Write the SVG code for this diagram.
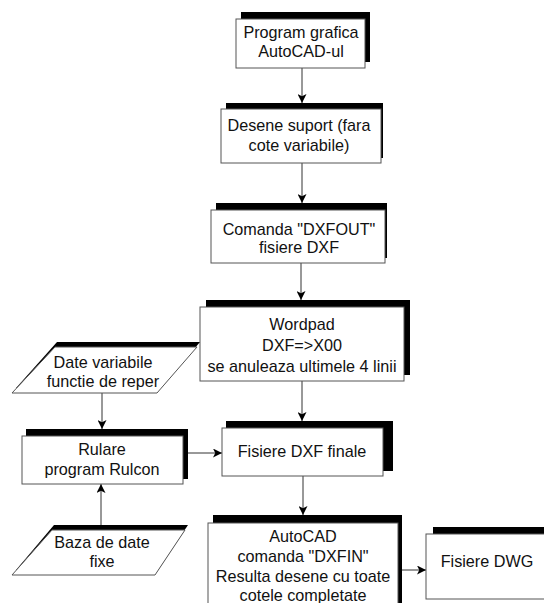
<svg xmlns="http://www.w3.org/2000/svg" width="544" height="603" viewBox="0 0 544 603">
<defs>
<style>
.sh{fill:#000}
.bx{fill:#fff;stroke:#555;stroke-width:1}
.t{font-family:"Liberation Sans",Arial,sans-serif;font-size:16.2px;fill:#111;text-anchor:middle}
.c{fill:none;stroke:#333;stroke-width:1}
</style>
<marker id="ah2" viewBox="0 0 10 10" refX="10" refY="5" markerWidth="12" markerHeight="9" markerUnits="userSpaceOnUse" orient="auto">
<path d="M0,0 L10,5 L0,10 L2.5,5 Z" fill="#000"/>
</marker>
</defs>
<rect width="544" height="603" fill="#fff"/>
<g id="connectors">
<line class="c" x1="302" y1="68" x2="302" y2="103" marker-end="url(#ah2)"/>
<line class="c" x1="302" y1="163" x2="302" y2="203" marker-end="url(#ah2)"/>
<line class="c" x1="301" y1="263" x2="301" y2="300" marker-end="url(#ah2)"/>
<line class="c" x1="302" y1="381" x2="302" y2="421" marker-end="url(#ah2)"/>
<line class="c" x1="303" y1="476" x2="303" y2="515" marker-end="url(#ah2)"/>
<line class="c" x1="402" y1="570" x2="426" y2="570" marker-end="url(#ah2)"/>
<line class="c" x1="188" y1="453" x2="222" y2="453" marker-end="url(#ah2)"/>
<line class="c" x1="102" y1="393" x2="102" y2="429" marker-end="url(#ah2)"/>
<line class="c" x1="101" y1="525" x2="101" y2="484" marker-end="url(#ah2)"/>
</g>
<g id="n1">
<rect class="sh" x="241" y="12" width="129" height="50"/>
<rect class="bx" x="236" y="19" width="129" height="49"/>
<text class="t" x="301" y="38">Program grafica</text>
<text class="t" x="301" y="57">AutoCAD-ul</text>
</g>
<g id="n2">
<rect class="sh" x="226" y="103" width="157" height="55"/>
<rect class="bx" x="221" y="109" width="160" height="54"/>
<text class="t" x="299" y="131">Desene suport (fara</text>
<text class="t" x="299" y="151">cote variabile)</text>
</g>
<g id="n3">
<rect class="sh" x="216" y="203" width="171" height="55"/>
<rect class="bx" x="211" y="210" width="174" height="53"/>
<text class="t" x="299" y="235">Comanda "DXFOUT"</text>
<text class="t" x="299" y="253">fisiere DXF</text>
</g>
<g id="n4">
<rect class="sh" x="206" y="300" width="204" height="75"/>
<rect class="bx" x="200" y="307" width="204" height="74"/>
<text class="t" x="302" y="330">Wordpad</text>
<text class="t" x="302" y="351">DXF=&gt;X00</text>
<text class="t" x="302" y="372">se anuleaza ultimele 4 linii</text>
</g>
<g id="n5">
<rect class="sh" x="226" y="421" width="167" height="50"/>
<rect class="bx" x="222" y="428" width="161" height="48"/>
<text class="t" x="302" y="457">Fisiere DXF finale</text>
</g>
<g id="n6">
<rect class="sh" x="213" y="515" width="189" height="100"/>
<rect class="bx" x="208" y="523" width="190" height="100"/>
<text class="t" x="303" y="542">AutoCAD</text>
<text class="t" x="303" y="562">comanda "DXFIN"</text>
<text class="t" x="303" y="582">Resulta desene cu toate</text>
<text class="t" x="303" y="601">cotele completate</text>
</g>
<g id="n7">
<rect class="sh" x="433" y="527" width="120" height="70"/>
<rect class="bx" x="426" y="534" width="122" height="65"/>
<text class="t" x="487" y="567">Fisiere DWG</text>
</g>
<g id="n8">
<rect class="sh" x="26" y="429" width="162" height="50"/>
<rect class="bx" x="22" y="436" width="161" height="48"/>
<text class="t" x="102" y="455">Rulare</text>
<text class="t" x="102" y="475">program Rulcon</text>
</g>
<g id="n9">
<polygon class="sh" points="57,342 200,342 161,388 16,388"/>
<polygon class="bx" points="55,347 197,347 157,393 12,393"/>
<text class="t" x="103" y="368">Date variabile</text>
<text class="t" x="103" y="387">functie de reper</text>
</g>
<g id="n10">
<polygon class="sh" points="54,525 188,525 158,570 16,570"/>
<polygon class="bx" points="52,530 185,530 155,575 12,575"/>
<text class="t" x="102" y="548">Baza de date</text>
<text class="t" x="102" y="567">fixe</text>
</g>
</svg>
